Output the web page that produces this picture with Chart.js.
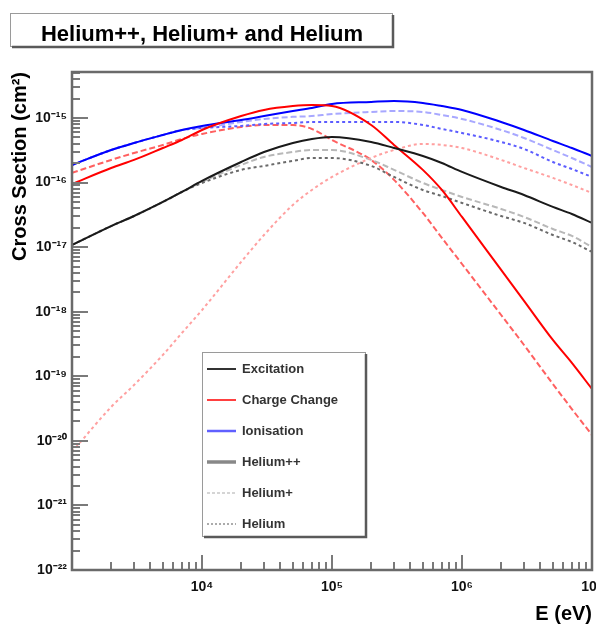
<!DOCTYPE html>
<html>
<head>
<meta charset="utf-8">
<title>Helium++, Helium+ and Helium</title>
<script src="https://cdn.jsdelivr.net/npm/chart.js@4.4.1/dist/chart.umd.min.js"></script>
<style>
  html, body { margin: 0; padding: 0; background: #fff; }
</style>
</head>
<body>
<canvas id="xsChart" width="596" height="628"></canvas>
<script>
// cross sections (cm2), per species and process
const energy = [1e3, 2e3, 3e3, 5e3, 7e3, 1e4, 2e4, 3e4, 5e4, 7e4, 1e5, 2e5, 3e5, 5e5, 7e5, 1e6, 2e6, 3e6, 5e6, 7e6, 1e7];

const excHepp = [1.08e-17, 2.12e-17, 3.03e-17, 5.00e-17, 7.14e-17, 1.06e-16, 2.08e-16, 2.97e-16, 4.10e-16, 4.73e-16, 5.08e-16, 4.25e-16, 3.43e-16, 2.58e-16, 2.01e-16, 1.46e-16, 8.54e-17, 6.42e-17, 4.19e-17, 3.26e-17, 2.37e-17];
const excHep = [1.08e-17, 2.12e-17, 3.03e-17, 5.00e-17, 7.14e-17, 1.02e-16, 1.87e-16, 2.49e-16, 2.97e-16, 3.19e-16, 3.19e-16, 2.24e-16, 1.57e-16, 9.85e-17, 7.67e-17, 5.98e-17, 3.90e-17, 2.93e-17, 1.91e-17, 1.49e-17, 1.00e-17];
const excHe = [1.08e-17, 2.12e-17, 3.03e-17, 5.00e-17, 7.14e-17, 9.85e-17, 1.57e-16, 1.81e-16, 2.16e-16, 2.40e-16, 2.40e-16, 1.81e-16, 1.22e-16, 7.67e-17, 6.19e-17, 4.83e-17, 3.03e-17, 2.37e-17, 1.54e-17, 1.20e-17, 8.41e-18];

const chgHepp = [9.50e-17, 1.68e-16, 2.24e-16, 3.43e-16, 4.56e-16, 6.52e-16, 1.07e-15, 1.33e-15, 1.53e-15, 1.59e-15, 1.53e-15, 7.79e-16, 3.82e-16, 1.57e-16, 7.67e-17, 2.93e-17, 4.43e-18, 1.47e-18, 3.65e-19, 1.61e-19, 6.35e-20];
const chgHep = [1.41e-16, 2.24e-16, 2.87e-16, 3.82e-16, 4.73e-16, 5.65e-16, 7.26e-16, 7.79e-16, 7.79e-16, 6.76e-16, 4.56e-16, 2.24e-16, 1.10e-16, 3.38e-17, 1.39e-17, 5.48e-18, 8.89e-19, 3.05e-19, 7.59e-20, 3.11e-20, 1.23e-20];
const chgHe = [6.72e-21, 3.34e-20, 7.33e-20, 2.14e-19, 4.68e-19, 1.06e-18, 5.89e-18, 1.54e-17, 4.50e-17, 7.67e-17, 1.22e-16, 2.40e-16, 3.19e-16, 3.96e-16, 3.82e-16, 3.43e-16, 2.24e-16, 1.68e-16, 1.18e-16, 9.17e-17, 6.89e-17];

const ionHepp = [1.87e-16, 3.19e-16, 4.10e-16, 5.45e-16, 6.52e-16, 7.52e-16, 9.30e-16, 1.07e-15, 1.28e-15, 1.43e-15, 1.65e-15, 1.77e-15, 1.83e-15, 1.71e-15, 1.53e-15, 1.33e-15, 8.67e-16, 6.52e-16, 4.40e-16, 3.43e-16, 2.58e-16];
const ionHep = [1.87e-16, 3.19e-16, 4.10e-16, 5.45e-16, 6.52e-16, 7.00e-16, 8.67e-16, 9.65e-16, 1.04e-15, 1.07e-15, 1.15e-15, 1.24e-15, 1.28e-15, 1.24e-15, 1.11e-15, 9.65e-16, 6.52e-16, 4.90e-16, 3.19e-16, 2.40e-16, 1.74e-16];
const ionHe = [1.87e-16, 3.19e-16, 4.10e-16, 5.45e-16, 6.52e-16, 7.00e-16, 7.52e-16, 8.07e-16, 8.37e-16, 8.67e-16, 8.67e-16, 8.67e-16, 8.67e-16, 7.79e-16, 6.76e-16, 5.86e-16, 4.25e-16, 3.31e-16, 2.08e-16, 1.62e-16, 1.22e-16];

const titleText = "Helium++, Helium+ and Helium";
const legendLabels = ["Excitation", "Charge Change", "Ionisation", "Helium++", "Helium+", "Helium"];

const sup = { "-": "\u207B", "0": "\u2070", "1": "\u00B9", "2": "\u00B2", "3": "\u00B3", "4": "\u2074", "5": "\u2075", "6": "\u2076", "7": "\u2077", "8": "\u2078", "9": "\u2079" };
const pow10Label = v => "10" + String(Math.round(Math.log10(v))).split("").map(c => sup[c]).join("");

const pts = arr => energy.map((e, i) => ({ x: e, y: arr[i] }));
const FONT = "'Liberation Sans', Arial, sans-serif";

// solid = He++, dashed = He+, dotted = He
const series = (label, data, color, dash) => ({
  label, data: pts(data), borderColor: color, borderWidth: 2, borderDash: dash,
  pointRadius: 0, fill: false, cubicInterpolationMode: "monotone"
});

const datasets = [
  series("Excitation He++", excHepp, "#1a1a1a", []),
  series("Charge Change He++", chgHepp, "#ff0000", []),
  series("Ionisation He++", ionHepp, "#0000ff", []),
  series("Excitation He", excHe, "#6a6a6a", [3, 3]),
  series("Charge Change He", chgHe, "#ffa0a0", [3, 3]),
  series("Ionisation He", ionHe, "#5c5cff", [3, 3]),
  series("Excitation He+", excHep, "#b8b8b8", [6, 3]),
  series("Charge Change He+", chgHep, "#ff6060", [6, 3]),
  series("Ionisation He+", ionHep, "#a8a8ff", [6, 3])
];

// inclusive log ticks 1..9 x 10^n between the scale limits
function logTicks(scale) {
  const out = [];
  const lo = Math.floor(Math.log10(scale.min)), hi = Math.ceil(Math.log10(scale.max));
  for (let e = lo; e <= hi; e++) {
    for (let m = 1; m <= 9; m++) {
      const v = +(m + "e" + e);
      if (v >= scale.min * 0.9999 && v <= scale.max * 1.0001) out.push({ value: v, major: m === 1 });
    }
  }
  scale.ticks = out;
}

function boxWithShadow(ctx, x, y, w, h) {
  ctx.fillStyle = "#fff";
  ctx.fillRect(x, y, w, h);
  ctx.strokeStyle = "#9a9a9a";
  ctx.lineWidth = 1;
  ctx.strokeRect(x + 0.5, y + 0.5, w, h);
  ctx.strokeStyle = "#5a5a5a";
  ctx.lineWidth = 2.5;
  ctx.beginPath();
  ctx.moveTo(x + 2, y + h + 1);
  ctx.lineTo(x + w + 1, y + h + 1);
  ctx.lineTo(x + w + 1, y + 2);
  ctx.stroke();
}

const rootStyle = {
  id: "rootStyle",
  beforeDraw(chart) {
    const ctx = chart.ctx;
    ctx.save();
    ctx.fillStyle = "#fff";
    ctx.fillRect(0, 0, chart.width, chart.height);
    ctx.restore();
  },
  afterDraw(chart) {
    const { ctx, chartArea: a, scales: { x, y } } = chart;
    ctx.save();

    // ticks pointing into the frame
    ctx.strokeStyle = "#7a7a7a";
    ctx.lineWidth = 2;
    ctx.beginPath();
    x.ticks.forEach(t => {
      const px = Math.round(x.getPixelForValue(t.value));
      ctx.moveTo(px, a.bottom);
      ctx.lineTo(px, a.bottom - (t.major ? 15 : 8));
    });
    y.ticks.forEach(t => {
      const py = Math.round(y.getPixelForValue(t.value));
      ctx.moveTo(a.left, py);
      ctx.lineTo(a.left + (t.major ? 16 : 8), py);
    });
    ctx.stroke();

    // frame
    ctx.strokeStyle = "#6a6a6a";
    ctx.lineWidth = 2.5;
    ctx.strokeRect(a.left, a.top, a.right - a.left, a.bottom - a.top);

    // title box
    boxWithShadow(ctx, 10, 13, 382, 33);
    ctx.fillStyle = "#000";
    ctx.font = "bold 22px " + FONT;
    ctx.textAlign = "center";
    ctx.textBaseline = "alphabetic";
    ctx.fillText(titleText, 202, 41);

    // legend
    const lx = 202, ly = 352, lw = 163, lh = 184;
    boxWithShadow(ctx, lx, ly, lw, lh);
    const samples = [
      { color: "#333", width: 2, dash: [] },
      { color: "#ff4040", width: 2, dash: [] },
      { color: "#6060ff", width: 2.5, dash: [] },
      { color: "#888", width: 3.5, dash: [] },
      { color: "#c8c8c8", width: 1.5, dash: [3, 2] },
      { color: "#909090", width: 1.5, dash: [2, 2] }
    ];
    ctx.font = "bold 13px " + FONT;
    ctx.textAlign = "left";
    ctx.textBaseline = "middle";
    legendLabels.forEach((lab, i) => {
      const cy = ly + 17 + i * 31;
      const s = samples[i];
      ctx.strokeStyle = s.color;
      ctx.lineWidth = s.width;
      ctx.setLineDash(s.dash);
      ctx.beginPath();
      ctx.moveTo(lx + 5, cy);
      ctx.lineTo(lx + 34, cy);
      ctx.stroke();
      ctx.setLineDash([]);
      ctx.fillStyle = "#333";
      ctx.fillText(lab, lx + 40, cy);
    });
    ctx.restore();
  }
};

new Chart(document.getElementById("xsChart"), {
  type: "line",
  data: { datasets },
  options: {
    responsive: false,
    animation: false,
    devicePixelRatio: 1,
    layout: { padding: { left: 0, right: 4, top: 72, bottom: 0 }, autoPadding: false },
    plugins: { legend: { display: false }, title: { display: false }, tooltip: { enabled: false } },
    scales: {
      x: {
        type: "logarithmic",
        min: 1e3,
        max: 1e7,
        afterBuildTicks: logTicks,
        afterFit: s => { s.height = 58; s.paddingLeft = 0; s.paddingRight = 0; },
        grid: { display: false, drawTicks: false, tickLength: 0 },
        border: { display: false },
        ticks: {
          autoSkip: false,
          maxRotation: 0,
          padding: 9,
          color: "#111",
          font: { family: FONT, size: 14, weight: "bold" },
          callback: (v, i, ticks) => (ticks[i].major && v > 1e3 ? pow10Label(v) : "")
        },
        title: {
          display: true,
          text: "E (eV)",
          align: "end",
          color: "#000",
          padding: { top: 0, bottom: 2 },
          font: { family: FONT, size: 20, weight: "bold" }
        }
      },
      y: {
        type: "logarithmic",
        min: 1e-22,
        max: 5.15e-15,
        afterBuildTicks: logTicks,
        afterFit: s => { s.width = 72; s.paddingTop = 0; s.paddingBottom = 0; },
        grid: { display: false, drawTicks: false, tickLength: 0 },
        border: { display: false },
        ticks: {
          autoSkip: false,
          padding: 5,
          color: "#111",
          font: { family: FONT, size: 14, weight: "bold" },
          callback: (v, i, ticks) => (ticks[i].major ? pow10Label(v) : "")
        },
        title: {
          display: true,
          text: "Cross Section (cm\u00B2)",
          align: "end",
          color: "#000",
          padding: { top: 8, bottom: 0 },
          font: { family: FONT, size: 20, weight: "bold" }
        }
      }
    }
  },
  plugins: [rootStyle]
});
</script>
</body>
</html>
